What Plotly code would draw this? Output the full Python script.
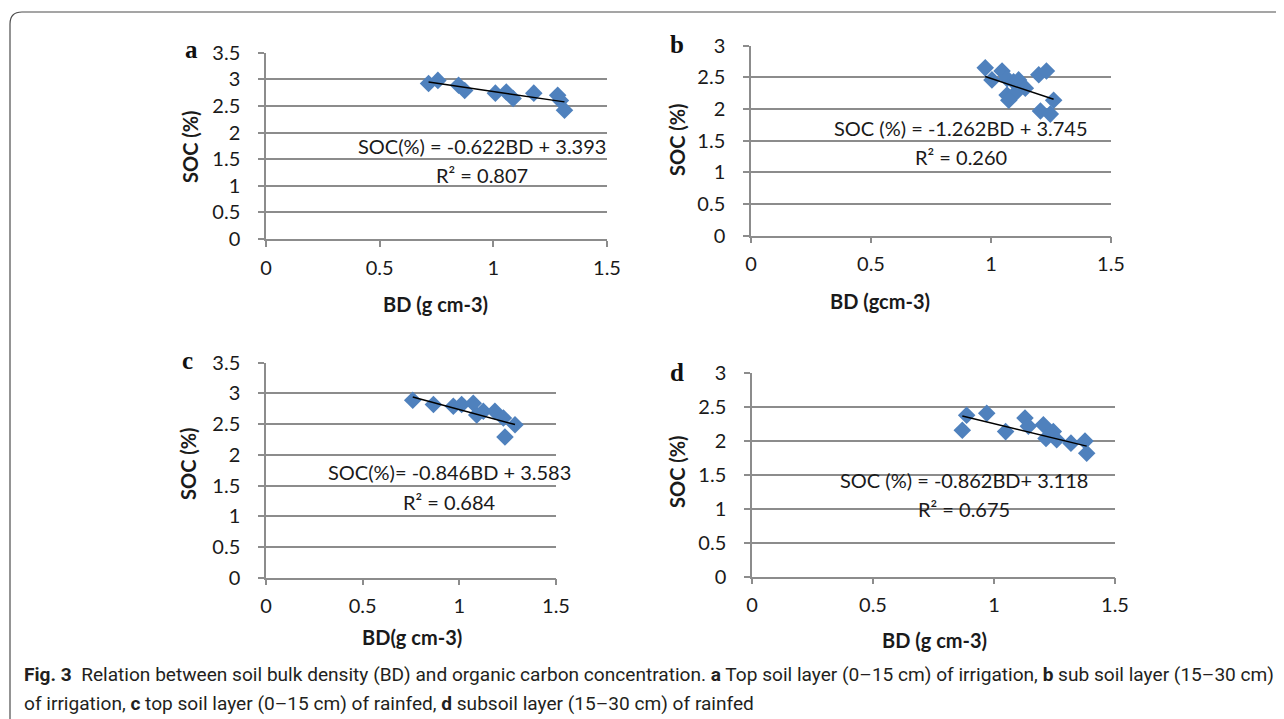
import numpy as np
import plotly.graph_objects as go

# the page body has an 8px margin, so the figure is sized to the visible area
OFF = 8
W, H = 1284 - OFF, 719 - OFF

# ---- data ----
a_bd = [0.715, 0.756, 0.847, 0.874, 1.009, 1.057, 1.087, 1.178, 1.283, 1.295, 1.313]
a_soc = [2.92, 2.98, 2.89, 2.79, 2.74, 2.76, 2.64, 2.74, 2.70, 2.60, 2.42]

b_bd = [0.976, 1.004, 1.046, 1.067, 1.094, 1.115, 1.143, 1.067, 1.101, 1.074, 1.199, 1.231, 1.261, 1.206, 1.247]
b_soc = [2.65, 2.46, 2.60, 2.48, 2.43, 2.46, 2.33, 2.22, 2.25, 2.14, 2.54, 2.60, 2.14, 1.97, 1.92]

c_bd = [0.759, 0.866, 0.969, 1.012, 1.072, 1.090, 1.124, 1.184, 1.228, 1.236, 1.288]
c_soc = [2.89, 2.82, 2.79, 2.82, 2.84, 2.65, 2.71, 2.71, 2.60, 2.29, 2.49]

d_bd = [0.869, 0.887, 0.970, 1.048, 1.128, 1.142, 1.204, 1.215, 1.245, 1.259, 1.318, 1.376, 1.383]
d_soc = [2.16, 2.38, 2.41, 2.14, 2.34, 2.22, 2.24, 2.04, 2.14, 2.02, 1.97, 2.00, 1.82]

slopes = [-0.622, -1.262, -0.846, -0.862]
intercepts = [3.393, 3.745, 3.583, 3.118]
eq_labels = ["SOC(%) = -0.622BD + 3.393", "SOC (%) = -1.262BD + 3.745",
             "SOC(%)= -0.846BD + 3.583", "SOC (%) = -0.862BD+ 3.118"]
r2_labels = ["R² = 0.807", "R² = 0.260", "R² = 0.684", "R² = 0.675"]
panel_letters = ["a", "b", "c", "d"]
x_titles = ["BD (g cm-3)", "BD (gcm-3)", "BD(g cm-3)", "BD (g cm-3)"]
y_title = "SOC (%)"
y_max = [3.5, 3.0, 3.5, 3.0]
x_ticks = [0, 0.5, 1, 1.5]
x_tick_text = ["0", "0.5", "1", "1.5"]

series = [(a_bd, a_soc), (b_bd, b_soc), (c_bd, c_soc), (d_bd, d_soc)]

# ---- layout geometry (page pixels) ----
# (x at 0, x at 1.5, y at top, y at 0)
boxes = [(266, 607, 52.7, 239), (751, 1111, 45.7, 235.7),
         (266, 556, 362.7, 577.7), (752, 1115, 373.3, 576.7)]
eq_pos = [(482, 146, 175), (961, 128, 157), (449, 472, 502), (964, 480, 509)]
ytitle_pos = [(190, 147), (677, 140), (188, 463), (677, 472)]
xtitle_pos = [(436, 304), (880, 301), (412, 637), (934, 640)]
letter_pos = [(191, 50), (677, 45), (188, 360), (677, 372)]

def px(x):
    return (x - OFF) / W

def py(y):
    return 1 - (y - OFF) / H

BLUE = "#4F81BD"
GRID = "#8c8c8c"
TXT = "#1a1a1a"
TICKFONT = dict(family="Lato", size=20, color=TXT)

fig = go.Figure()
layout = dict(template="none", width=W, height=H,
              margin=dict(l=0, r=0, t=0, b=0, pad=0, autoexpand=False),
              paper_bgcolor="white", plot_bgcolor="white", showlegend=False)

annotations = []
for i, ((bd, soc), (x0, x1, yt, yb)) in enumerate(zip(series, boxes)):
    k = "" if i == 0 else str(i + 1)
    xa, ya = "x" + k, "y" + k
    fig.add_trace(go.Scatter(x=bd, y=soc, mode="markers", xaxis=xa, yaxis=ya,
                             marker=dict(symbol="diamond", size=13.5, color=BLUE,
                                         line=dict(width=0))))
    xs = np.array([min(bd), max(bd)])
    fig.add_trace(go.Scatter(x=xs, y=slopes[i] * xs + intercepts[i], mode="lines",
                             xaxis=xa, yaxis=ya, line=dict(color="black", width=1.5)))
    layout["xaxis" + k] = dict(domain=[px(x0), px(x1)], anchor=ya, range=[0, 1.5],
                               tickvals=x_ticks, ticktext=x_tick_text, automargin=False,
                               showgrid=False, zeroline=False, showline=True,
                               linecolor=GRID, linewidth=1.5, ticks="outside",
                               ticklen=6, tickcolor=GRID, tickwidth=1.5,
                               tickfont=TICKFONT, ticklabelstandoff=4)
    yt_vals = list(np.arange(0, y_max[i] + 0.01, 0.5))
    layout["yaxis" + k] = dict(domain=[py(yb), py(yt)], anchor=xa, range=[0, y_max[i]],
                               tickvals=yt_vals, ticktext=[f"{v:g}" for v in yt_vals],
                               automargin=False,
                               showgrid=True, gridcolor=GRID, gridwidth=1.5,
                               zeroline=False, showline=True, linecolor=GRID,
                               linewidth=1.5, ticks="outside", ticklen=6,
                               tickcolor=GRID, tickwidth=1.5, tickfont=TICKFONT,
                               ticklabelstandoff=14)
    ex, ey, ry = eq_pos[i]
    annotations.append(dict(x=px(ex), y=py(ey), xref="paper", yref="paper",
                            text=eq_labels[i], showarrow=False, xanchor="center",
                            yanchor="middle", font=dict(family="Lato", size=20, color=TXT)))
    annotations.append(dict(x=px(ex), y=py(ry), xref="paper", yref="paper",
                            text=r2_labels[i], showarrow=False, xanchor="center",
                            yanchor="middle", font=dict(family="Lato", size=20, color=TXT)))
    tx, ty = ytitle_pos[i]
    annotations.append(dict(x=px(tx), y=py(ty), xref="paper", yref="paper",
                            text="<b>" + y_title + "</b>", showarrow=False, textangle=-90,
                            xanchor="center", yanchor="middle",
                            font=dict(family="Lato", size=20, color=TXT)))
    tx, ty = xtitle_pos[i]
    annotations.append(dict(x=px(tx), y=py(ty), xref="paper", yref="paper",
                            text="<b>" + x_titles[i] + "</b>", showarrow=False,
                            xanchor="center", yanchor="middle",
                            font=dict(family="Lato", size=20, color=TXT)))
    lx, ly = letter_pos[i]
    annotations.append(dict(x=px(lx), y=py(ly), xref="paper", yref="paper",
                            text="<b>" + panel_letters[i] + "</b>", showarrow=False,
                            xanchor="center", yanchor="middle",
                            font=dict(family="Liberation Serif", size=25, color="#111111")))

caption_1 = ("<b>Fig. 3</b>  Relation between soil bulk density (BD) and organic carbon concentration. "
             "<b>a</b> Top soil layer (0–15 cm) of irrigation, <b>b</b> sub soil layer (15–30 cm)")
caption_2 = ("of irrigation, <b>c</b> top soil layer (0–15 cm) of rainfed, "
             "<b>d</b> subsoil layer (15–30 cm) of rainfed")
CAPFONT = dict(family="Roboto", size=19.1, color="#231f20")
annotations.append(dict(x=px(22), y=py(674), xref="paper", yref="paper", text=caption_1,
                        showarrow=False, xanchor="left", yanchor="middle", font=CAPFONT))
annotations.append(dict(x=px(22), y=py(703), xref="paper", yref="paper", text=caption_2,
                        showarrow=False, xanchor="left", yanchor="middle", font=CAPFONT))
layout["annotations"] = annotations

# rounded frame around the figure (open to the right and bottom edges)
r = 12
x0f, y0f = 10, 12
path = (f"M {px(x0f)},0 L {px(x0f)},{py(y0f + r)} "
        f"Q {px(x0f)},{py(y0f)} {px(x0f + r)},{py(y0f)} L 1,{py(y0f)}")
layout["shapes"] = [dict(type="path", path=path, xref="paper", yref="paper",
                         line=dict(color="#4d4d4d", width=1.2))]

fig.update_layout(**layout)
fig.write_html("out.html")
